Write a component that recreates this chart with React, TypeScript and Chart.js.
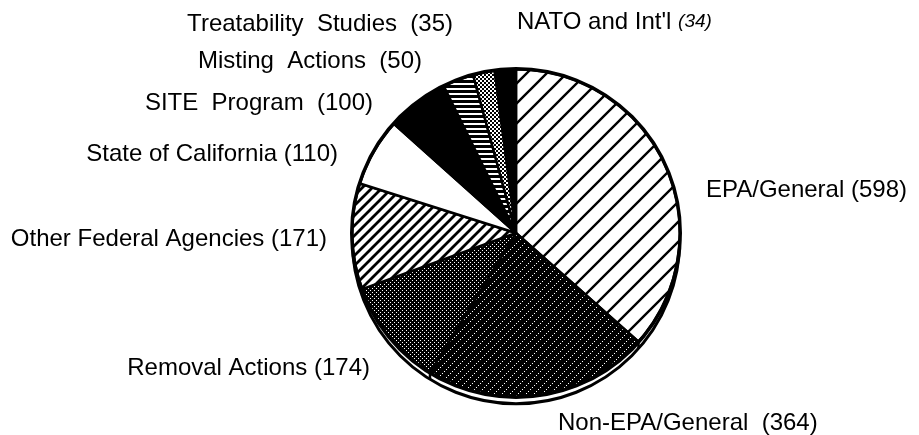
import React, { useEffect, useRef } from "react";
import { Chart, registerables } from "chart.js";

Chart.register(...registerables);

// ---- data ----
const categories = [
  "EPA/General",
  "Non-EPA/General",
  "Removal Actions",
  "Other Federal Agencies",
  "State of California",
  "SITE Program",
  "Misting Actions",
  "Treatability Studies",
  "NATO and Int'l",
];
const counts = [598, 364, 174, 171, 110, 100, 50, 35, 34];

// ---- label layout (offsets from pie centre, px) ----
const labelLayout = [
  { dx: 190, dy: -43, align: "left", wide: false, italicValue: false },
  { dx: 42, dy: 190, align: "left", wide: true, italicValue: false },
  { dx: -146, dy: 135, align: "right", wide: false, italicValue: false },
  { dx: -189, dy: 6, align: "right", wide: false, italicValue: false },
  { dx: -178, dy: -79, align: "right", wide: false, italicValue: false },
  { dx: -143, dy: -130, align: "right", wide: true, italicValue: false },
  { dx: -94, dy: -172, align: "right", wide: true, italicValue: false },
  { dx: -63, dy: -209, align: "right", wide: true, italicValue: false },
  { dx: 1, dy: -211, align: "left", wide: false, italicValue: true },
];

const FONT_FAMILY = '"Liberation Sans", Arial, Helvetica, sans-serif';
const FONT_SIZE = 24;

function makePattern(w: number, h: number, draw: (g: CanvasRenderingContext2D) => void) {
  const c = document.createElement("canvas");
  c.width = w;
  c.height = h;
  const g = c.getContext("2d")!;
  draw(g);
  return g.createPattern(c, "repeat")!;
}

function hatch(size: number, lw: number) {
  return makePattern(size, size, (g) => {
    g.fillStyle = "#fff";
    g.fillRect(0, 0, size, size);
    g.strokeStyle = "#000";
    g.lineWidth = lw;
    g.beginPath();
    for (const k of [-size, 0, size]) {
      g.moveTo(k - 1, size + 1);
      g.lineTo(k + size + 1, -1);
    }
    g.stroke();
  });
}

function pixelPattern(w: number, h: number, bg: string, fg: string, pts: number[][]) {
  return makePattern(w, h, (g) => {
    g.fillStyle = bg;
    g.fillRect(0, 0, w, h);
    g.fillStyle = fg;
    for (const [x, y, pw, ph] of pts) g.fillRect(x, y, pw || 1, ph || 1);
  });
}

function buildFills() {
  return [
    hatch(20, 2.4), // EPA/General
    pixelPattern(8, 8, "#000", "#fff", [[0, 7], [2, 5], [4, 3], [6, 1]]), // Non-EPA
    pixelPattern(4, 4, "#000", "#fff", [[0, 0], [2, 2]]), // Removal
    hatch(10, 2.8), // Other Federal
    "#ffffff", // California
    "#000000", // SITE
    pixelPattern(5, 5, "#000", "#fff", [[0, 3, 5, 2]]), // Misting
    pixelPattern(4, 4, "#000", "#fff", [[0, 0, 2, 2], [2, 2, 2, 2]]), // Treatability
    "#000000", // NATO
  ];
}

const SHADOW = 7;

const pie3dPlugin = {
  id: "pie3d",
  beforeDatasetsDraw(chart: any) {
    const meta = chart.getDatasetMeta(0);
    const a0 = meta.data[0];
    if (!a0) return;
    const { x, y, outerRadius } = a0;
    const ctx = chart.ctx;
    ctx.save();
    ctx.beginPath();
    ctx.arc(x, y + SHADOW, outerRadius, 0, Math.PI * 2);
    ctx.fillStyle = "#fff";
    ctx.fill();
    ctx.lineWidth = 3;
    ctx.strokeStyle = "#000";
    ctx.stroke();
    // side edges at slice boundaries in lower half
    ctx.lineWidth = 2.5;
    for (const arc of meta.data) {
      const ang = arc.startAngle;
      const px = x + outerRadius * Math.cos(ang);
      const py = y + outerRadius * Math.sin(ang);
      if (Math.sin(ang) > 0.2) {
        ctx.beginPath();
        ctx.moveTo(px, py);
        ctx.lineTo(px, py + SHADOW);
        ctx.stroke();
      }
    }
    ctx.restore();
  },
  afterDatasetsDraw(chart: any) {
    const meta = chart.getDatasetMeta(0);
    const a0 = meta.data[0];
    if (!a0) return;
    const { x, y, outerRadius } = a0;
    const ctx = chart.ctx;
    ctx.save();
    ctx.beginPath();
    ctx.arc(x, y, outerRadius + 0.5, 0, Math.PI * 2);
    ctx.lineWidth = 3.5;
    ctx.strokeStyle = "#000";
    ctx.stroke();
    ctx.restore();

    // labels
    ctx.save();
    ctx.fillStyle = "#000";
    ctx.textBaseline = "middle";
    categories.forEach((name, i) => {
      const L = labelLayout[i];
      const sep = L.wide ? "  " : " ";
      const main = (L.wide ? name.replace(/ /g, "  ") : name) + sep;
      const val = `(${counts[i]})`;
      const mainFont = `${FONT_SIZE}px ${FONT_FAMILY}`;
      const valFont = L.italicValue ? `italic ${FONT_SIZE - 5}px ${FONT_FAMILY}` : mainFont;
      ctx.font = mainFont;
      const wMain = ctx.measureText(main).width;
      ctx.font = valFont;
      const wVal = ctx.measureText(val).width;
      const total = wMain + wVal;
      let left = x + L.dx;
      if (L.align === "right") left -= total;
      const ty = y + L.dy;
      ctx.textAlign = "left";
      ctx.font = mainFont;
      ctx.fillText(main, left, ty);
      ctx.font = valFont;
      ctx.fillText(val, left + wMain, ty);
    });
    ctx.restore();
  },
};

export default function App() {
  const ref = useRef<HTMLCanvasElement | null>(null);
  useEffect(() => {
    document.body.style.margin = "0";
    const canvas = ref.current!;
    const chart = new Chart(canvas, {
      type: "pie",
      data: {
        labels: categories,
        datasets: [
          {
            data: counts,
            backgroundColor: buildFills() as any,
            borderColor: "#000",
            borderWidth: 2.5,
            hoverOffset: 0,
          },
        ],
      },
      options: {
        responsive: false,
        animation: false,
        events: [],
        layout: { padding: { left: 351, top: 68, right: 238, bottom: 37 } },
        plugins: {
          legend: { display: false },
          tooltip: { enabled: false },
          title: { display: false },
        },
      },
      plugins: [pie3dPlugin],
    });
    return () => chart.destroy();
  }, []);
  return (
    <div style={{ position: "absolute", left: 0, top: 0, width: 919, height: 435, background: "#fff" }}>
      <canvas ref={ref} width={919} height={435} />
    </div>
  );
}
